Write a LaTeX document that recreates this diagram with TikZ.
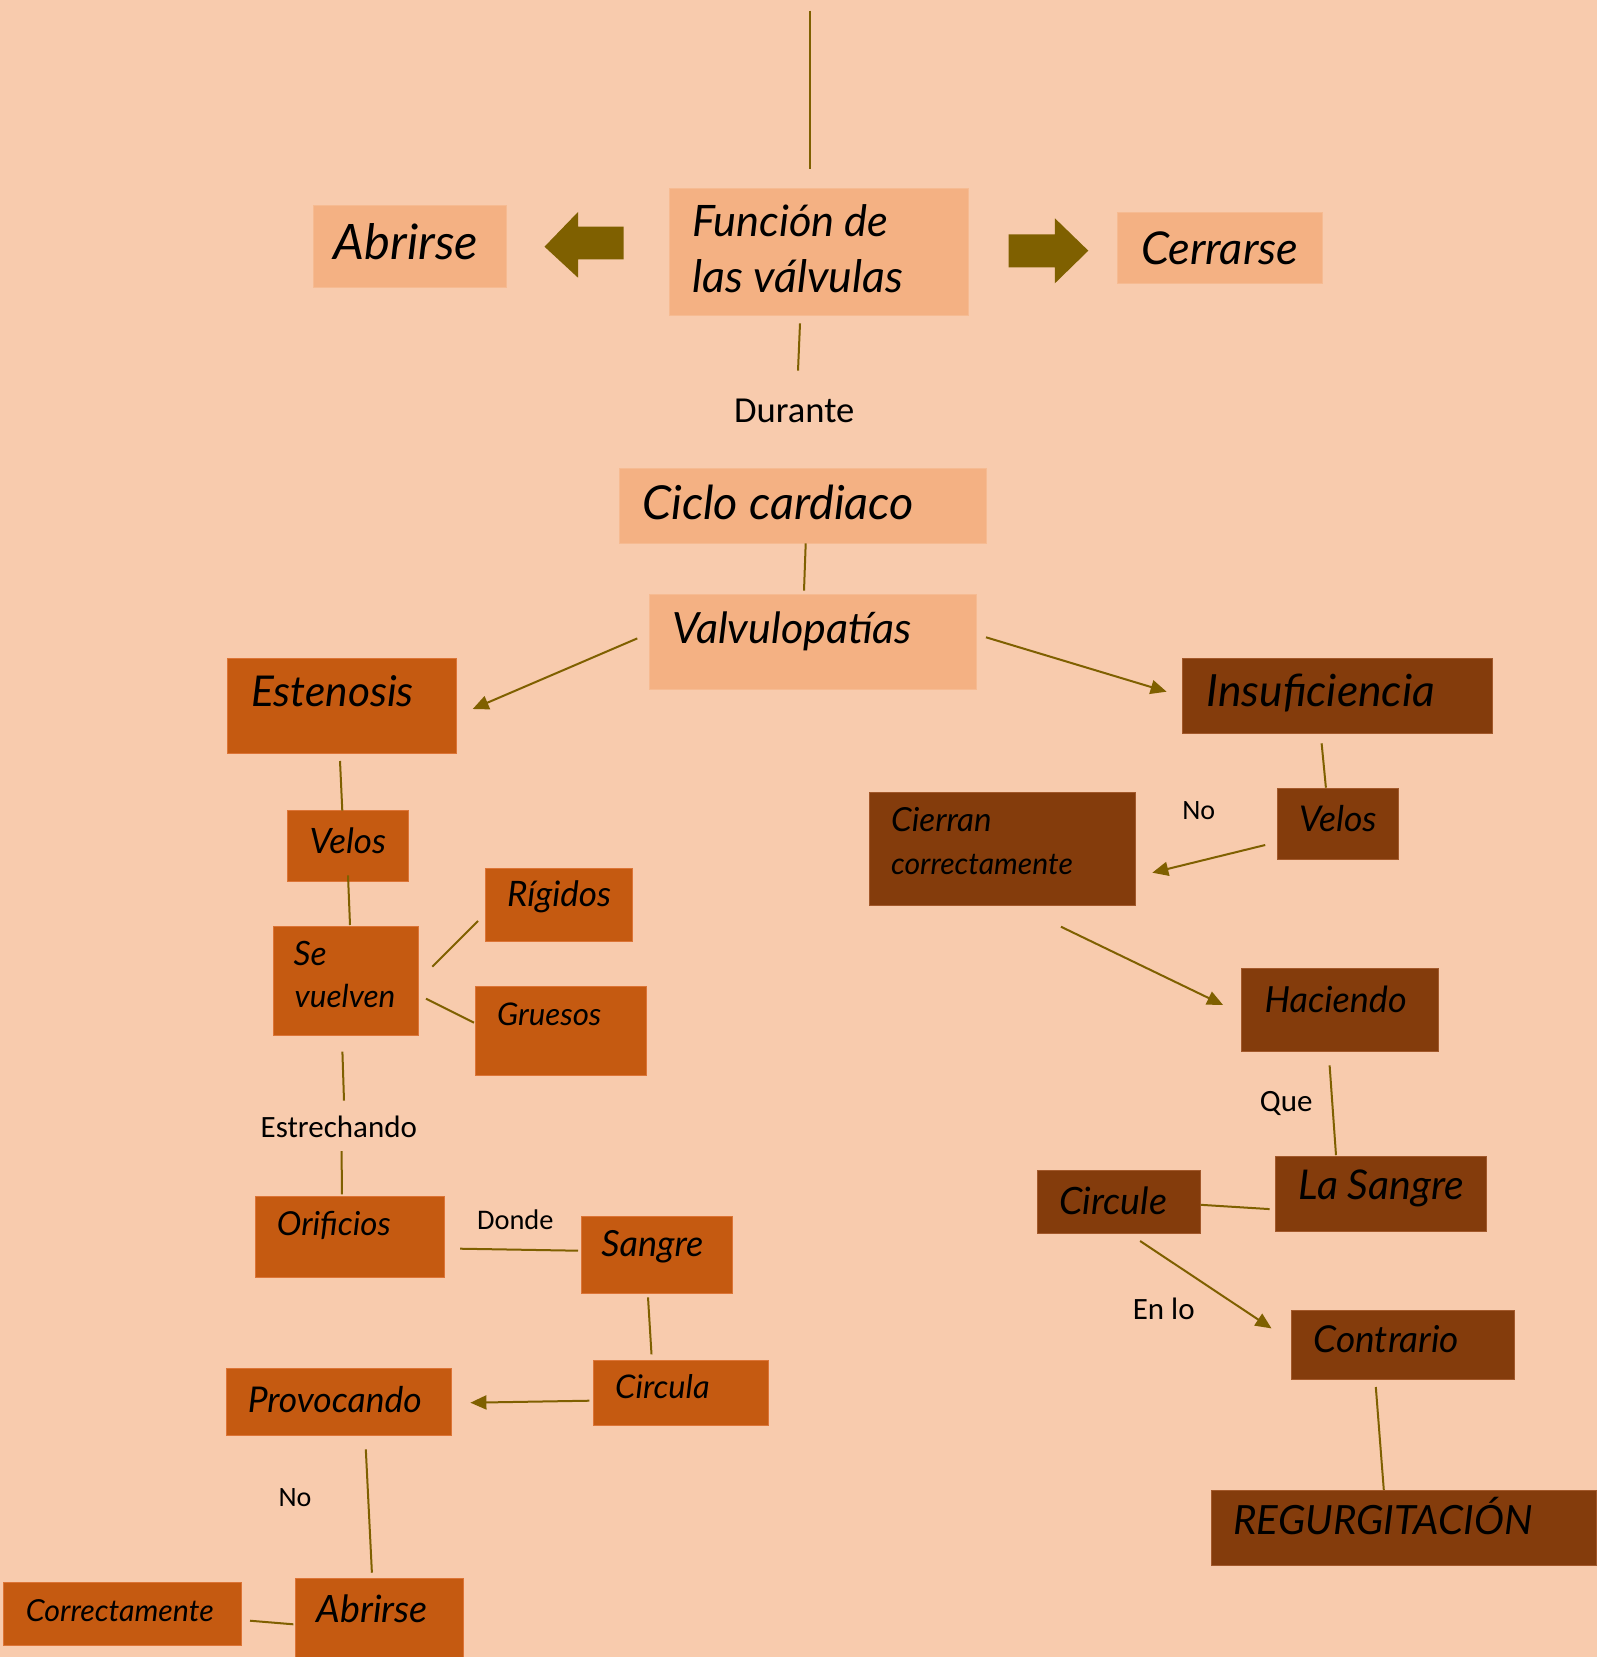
\documentclass[tikz,border=0pt]{standalone}
\usepackage{fontspec}
\usepackage{graphicx}
\usetikzlibrary{arrows.meta}
\newfontfamily\lblfont{Carlito}
\newfontfamily\handfont{Lato}
\definecolor{bgpeach}{HTML}{F8CBAD}
\definecolor{boxlight}{HTML}{F4B183}
\definecolor{edgelight}{HTML}{F6BB92}
\definecolor{boxorange}{HTML}{C55A11}
\definecolor{edgeorange}{HTML}{DC7436}
\definecolor{boxbrown}{HTML}{843C0C}
\definecolor{edgebrown}{HTML}{A2582A}
\definecolor{lineolive}{HTML}{7F6000}
% handwritten text, scaled to the width it has in the picture
\newcommand{\hw}[2]{\resizebox{#1pt}{!}{\handfont\itshape #2}}
\tikzset{
  lightbox/.style={rectangle, fill=boxlight, draw=edgelight, line width=0.5pt, anchor=north west, inner sep=0pt, outer sep=0pt},
  orangebox/.style={lightbox, fill=boxorange, draw=edgeorange},
  brownbox/.style={lightbox, fill=boxbrown, draw=edgebrown},
  txt/.style={anchor=base west, inner sep=0pt, text=black},
  lbl/.style={anchor=base, inner sep=0pt, text=black, font=\lblfont\fontsize{15.5}{18}\selectfont},
  conn/.style={draw=lineolive, line width=1pt},
  arr/.style={conn, -{Triangle[length=8pt,width=7pt]}},
}
\begin{document}
\begin{tikzpicture}[x=0.5pt, y=-0.5pt]
	\useasboundingbox (0,0) rectangle (1597,1657);
	\clip (0,0) rectangle (1597,1657);
	\fill[bgpeach] (0,0) rectangle (1597,1657);
	% top row
	\node[lightbox, minimum width=149.75pt, minimum height=63.5pt] (funcion) at (669,188.3) {};
	\node[lightbox, minimum width=96.45pt, minimum height=40.85pt] (abrirA) at (313.4,206) {};
	\node[lightbox, minimum width=102.9pt, minimum height=35.7pt] (cerrar) at (1117,212.3) {};
	\node[txt] (funcion-a) at (691.8,236.7) {\hw{98}{Función de}};
	\node[txt] (funcion-b) at (691.8,292.3) {\hw{105.5}{las válvulas}};
	\node[txt] (abrirA-t) at (333.5,259.3) {\hw{72}{Abrirse}};
	\node[txt] (cerrar-t) at (1140.6,265) {\hw{78.5}{Cerrarse}};
	\fill[lineolive] (544.5,246.7) -- (578,212) -- (578,226.7) -- (623.5,226.7) -- (623.5,259.3) -- (578,259.3) -- (578,277.7) -- cycle;
	\fill[lineolive] (1008.6,234.3) -- (1054.9,234.3) -- (1054.9,218.3) -- (1088.3,250.7) -- (1054.9,283.3) -- (1054.9,267.3) -- (1008.6,267.3) -- cycle;
	\coordinate (topend) at (809.6,10.6);
	\node[lbl, font=\lblfont\fontsize{18.3}{22}\selectfont] (durante) at (794.3,422.7) {Durante};
	% centre column
	\node[lightbox, minimum width=183.7pt, minimum height=37.5pt] (ciclo) at (619.3,468.3) {};
	\node[lightbox, minimum width=163.7pt, minimum height=47.5pt] (valvulo) at (649.3,594.3) {};
	\node[txt] (ciclo-t) at (641.7,520) {\hw{135.85}{Ciclo cardiaco}};
	\node[txt] (valvulo-t) at (671.7,643) {\hw{120}{Valvulopatías}};
	% left branch
	\node[orangebox, minimum width=114.5pt, minimum height=47.5pt] (estenosis) at (227.3,658.3) {};
	\node[orangebox, minimum width=60.7pt, minimum height=35.5pt] (velosA) at (287.3,810.3) {};
	\node[orangebox, minimum width=72.7pt, minimum height=54.85pt] (sevuelven) at (273.3,926) {};
	\node[orangebox, minimum width=73.7pt, minimum height=36.7pt] (rigidos) at (485.3,868.3) {};
	\node[orangebox, minimum width=85.7pt, minimum height=44.3pt] (gruesos) at (475.3,986.7) {};
	\node[orangebox, minimum width=94.65pt, minimum height=40.5pt] (orificios) at (255.1,1196.3) {};
	\node[orangebox, minimum width=75.55pt, minimum height=38.5pt] (sangreA) at (581.6,1216.3) {};
	\node[orangebox, minimum width=87.5pt, minimum height=32.5pt] (circula) at (593.4,1360.3) {};
	\node[orangebox, minimum width=112.5pt, minimum height=33.5pt] (provocando) at (226,1368.3) {};
	\node[orangebox, minimum width=84.2pt, minimum height=39.35pt] (abrirB) at (295.4,1578.3) {};
	\node[orangebox, minimum width=119.1pt, minimum height=31.35pt] (correcta) at (3.6,1582.3) {};
	\node[txt] (estenosis-t) at (250.7,706.7) {\hw{81.35}{Estenosis}};
	\node[txt] (velosA-t) at (309.3,853.3) {\hw{38.15}{Velos}};
	\node[txt] (sevuelven-a) at (293.3,965) {\hw{16.5}{Se}};
	\node[txt] (sevuelven-b) at (294.3,1007.7) {\hw{50.35}{vuelven}};
	\node[txt] (rigidos-t) at (506.7,906.7) {\hw{52}{Rígidos}};
	\node[txt] (gruesos-t) at (496.7,1025) {\hw{52.15}{Gruesos}};
	\node[txt] (orificios-t) at (276.5,1235) {\hw{56.9}{Orificios}};
	\node[txt] (sangreA-t) at (601,1256) {\hw{51}{Sangre}};
	\node[txt] (circula-t) at (614.8,1398) {\hw{47.2}{Circula}};
	\node[txt] (provocando-t) at (247.4,1412.3) {\hw{87}{Provocando}};
	\node[txt] (abrirB-t) at (316.3,1622.7) {\hw{55.5}{Abrirse}};
	\node[txt] (correcta-t) at (25.5,1621.7) {\hw{93.9}{Correctamente}};
	\node[lbl] (estrechando) at (338.8,1137.7) {Estrechando};
	\node[lbl, font=\lblfont\fontsize{14.2}{17}\selectfont] (donde) at (515.3,1229) {Donde};
	\node[lbl, font=\lblfont\fontsize{14}{17}\selectfont] (noA) at (295,1506.7) {No};
	% right branch
	\node[brownbox, minimum width=155pt, minimum height=37.5pt] (insuf) at (1182.4,658.3) {};
	\node[brownbox, minimum width=60.5pt, minimum height=35.5pt] (velosB) at (1277.1,788.3) {};
	\node[brownbox, minimum width=133.2pt, minimum height=56.5pt] (cierran) at (869.1,792.3) {};
	\node[brownbox, minimum width=98.5pt, minimum height=41.35pt] (haciendo) at (1241.3,968.3) {};
	\node[brownbox, minimum width=105.65pt, minimum height=37.65pt] (lasangre) at (1275.3,1156.1) {};
	\node[brownbox, minimum width=81.65pt, minimum height=31.45pt] (circule) at (1037.3,1170.3) {};
	\node[brownbox, minimum width=111.75pt, minimum height=34.45pt] (contrario) at (1291.3,1310.3) {};
	\node[brownbox, minimum width=192.35pt, minimum height=37.5pt] (regurg) at (1211.3,1490.4) {};
	\node[txt] (insuf-t) at (1206.3,706.7) {\hw{114}{Insuficiencia}};
	\node[txt] (velosB-t) at (1298.7,831.7) {\hw{38.75}{Velos}};
	\node[txt] (cierran-a) at (890.7,831) {\hw{50.2}{Cierran}};
	\node[txt] (cierran-b) at (890.7,874) {\hw{90.9}{correctamente}};
	\node[txt] (haciendo-t) at (1264.2,1012.3) {\hw{71}{Haciendo}};
	\node[txt] (lasangre-t) at (1298.1,1199.5) {\hw{82.8}{La Sangre}};
	\node[txt] (circule-t) at (1059,1214.4) {\hw{53.85}{Circule}};
	\node[txt] (contrario-t) at (1313.3,1352.9) {\hw{72.7}{Contrario}};
	\node[txt] (regurg-t) at (1233,1534.1) {\hw{149.65}{REGURGITACIÓN}};
	\node[lbl, font=\lblfont\fontsize{14}{17}\selectfont] (noB) at (1198.7,819) {No};
	\node[lbl] (que) at (1286.2,1111.7) {Que};
	\node[lbl] (enlo) at (1163.7,1319.5) {En lo};
	% connectors
	\draw[conn] (topend) -- ([shift={(-9.15,-19.3)}]funcion.north);
	\draw[conn] ([shift={(-18.75,8)}]funcion.south) -- ([shift={(3.7,-52)}]durante.base);
	\draw[conn] ([shift={(2.7,0)}]ciclo.south) -- ([shift={(-9,-3.6)}]valvulo.north);
	\draw[arr] ([shift={(-12,-3.4)}]valvulo.west) -- ([shift={(16.4,3.2)}]estenosis.east);
	\draw[arr] ([shift={(9.3,-4.5)}]valvulo.east) -- ([shift={(-15.8,-4.1)}]insuf.west);
	\draw[conn] ([shift={(-1.8,7.7)}]estenosis.south) -- ([shift={(-5.7,0.4)}]velosA.north);
	\draw[conn] ([shift={(0,-6)}]velosA.south) -- ([shift={(4,-1)}]sevuelven.north);
	\draw[conn] ([shift={(13.6,-14.15)}]sevuelven.east) -- ([shift={(-7.3,16)}]rigidos.west);
	\draw[conn] ([shift={(7.3,17.85)}]sevuelven.east) -- ([shift={(-1.3,-8.3)}]gruesos.west);
	\draw[conn] ([shift={(-3.6,15.9)}]sevuelven.south) -- ([shift={(5.2,-37)}]estrechando.base);
	\draw[conn] ([shift={(2.9,13.3)}]estrechando.base) -- ([shift={(-7.95,-2)}]orificios.north);
	\draw[conn] ([shift={(15.8,11.9)}]orificios.east) -- ([shift={(-3.6,-4.1)}]sangreA.west);
	\draw[conn] ([shift={(-9.15,4)}]sangreA.south) -- ([shift={(-29.4,-6)}]circula.north);
	\draw[arr] ([shift={(-4.1,7.9)}]circula.west) -- ([shift={(19.4,0.9)}]provocando.east);
	\draw[conn] ([shift={(27.3,14)}]provocando.south) -- ([shift={(-7.7,-5.6)}]abrirB.north);
	\draw[conn] ([shift={(8.2,7.05)}]correcta.east) -- ([shift={(-2,6.65)}]abrirB.west);
	\draw[conn] ([shift={(-15.8,10)}]insuf.south) -- ([shift={(-11.7,-0.6)}]velosB.north);
	\draw[arr] ([shift={(-11.9,21.2)}]velosB.west) -- ([shift={(16.8,23.9)}]cierran.east);
	\draw[arr] ([shift={(58.6,21.4)}]cierran.south) -- ([shift={(-18.2,-4.65)}]haciendo.west);
	\draw[conn] ([shift={(-10.2,14.4)}]haciendo.south) -- ([shift={(-44.95,-0.9)}]lasangre.north);
	\draw[conn] ([shift={(0,3.05)}]circule.east) -- ([shift={(-5.7,15.35)}]lasangre.west);
	\draw[arr] ([shift={(21.15,7.8)}]circule.south) -- ([shift={(-19.8,-16.35)}]contrario.west);
	\draw[conn] ([shift={(-27.25,7.8)}]contrario.south) -- ([shift={(-19.85,-0.4)}]regurg.north);
\end{tikzpicture}
\end{document}
